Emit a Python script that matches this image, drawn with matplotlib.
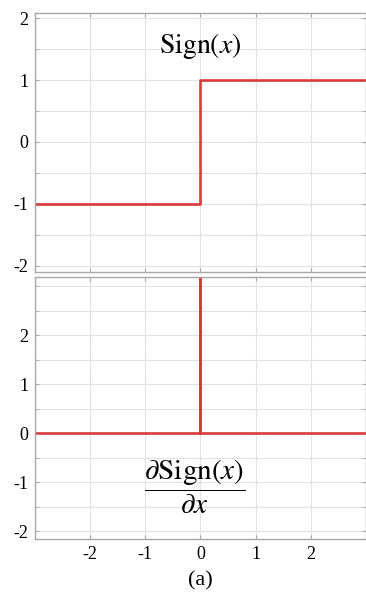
import numpy as np
import matplotlib
matplotlib.use("Agg")
import matplotlib.pyplot as plt

plt.rcParams['font.family'] = ['Liberation Serif', 'DejaVu Serif']
plt.rcParams['mathtext.fontset'] = 'stix'
plt.rcParams['axes.unicode_minus'] = False

# Sign(x) step function
sign_x = [-3, 0, 0, 3]
sign_y = [-1, -1, 1, 1]

# derivative: zero everywhere, spike at x = 0
deriv_x = [-3, 0, 0, 0, 3]
deriv_y = [0, 0, 10, 0, 0]

xticks = [-2, -1, 0, 1, 2]
yticks = [-2, -1, 0, 1, 2]

red = '#d93a3a'
grid_col = '#e2e2e2'
frame_col = '#a8a8a8'

fig = plt.figure(figsize=(3.66, 5.99), dpi=100)
ax1 = fig.add_axes([0.0956, 0.546, 0.9044, 0.432])
ax2 = fig.add_axes([0.0956, 0.100, 0.9044, 0.437])


def style(ax, ylim):
    ax.set_xticks(xticks)
    ax.set_yticks(yticks)
    ax.set_yticks(np.arange(-2.5, 3.5, 0.5), minor=True)
    ax.set_xlim(-3, 3)
    ax.set_ylim(*ylim)
    ax.grid(True, which='major', color=grid_col, lw=0.8)
    ax.grid(True, which='minor', axis='y', color=grid_col, lw=0.8)
    ax.tick_params(which='both', direction='in', length=3, color=frame_col,
                   labelsize=13, pad=5, right=True, top=True)
    for s in ax.spines.values():
        s.set_color(frame_col)
        s.set_linewidth(1.0)
    ax.set_axisbelow(True)


style(ax1, (-2.1, 2.08))
ax1.plot(sign_x, sign_y, color=red, lw=1.9)
ax1.set_xticklabels([])
ax1.text(0, 1.55, r'$\mathrm{Sign}(x)$', ha='center', va='center', fontsize=20)

style(ax2, (-2.16, 3.18))
ax2.plot(deriv_x, deriv_y, color=red, lw=1.9)
ax2.text(-0.1, -1.1, r'$\dfrac{\partial\mathrm{Sign}(x)}{\partial x}$',
         ha='center', va='center', fontsize=21)
ax2.set_xlabel('(a)', fontsize=16, labelpad=6)

fig.savefig('out.png', dpi=100)
